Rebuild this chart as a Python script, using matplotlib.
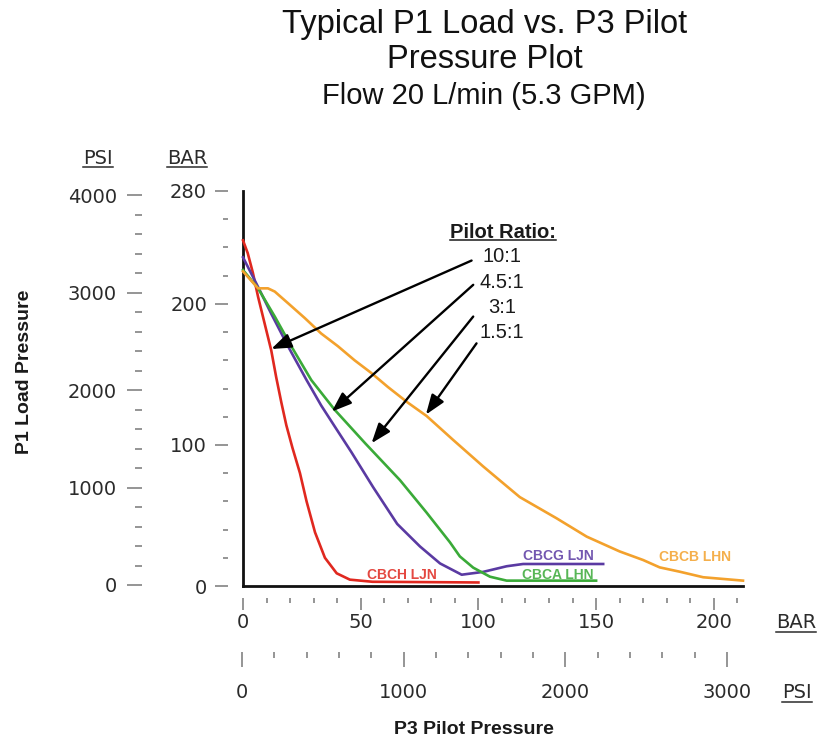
import numpy as np
import matplotlib
matplotlib.use("Agg")
import matplotlib.pyplot as plt
from matplotlib.ticker import FixedLocator
from matplotlib.lines import Line2D

# ---------------- data (BAR units) ----------------
red_x = [0, 2, 4.2, 6.4, 9.2, 12, 14.1, 16.3, 18.4, 21, 24.2, 27, 30.6, 34.8, 39.8, 45.4, 55, 100]
red_y = [245, 236, 222, 205, 186, 167, 148, 130, 114, 98, 80, 60, 38, 20, 9, 4.5, 3, 2.5]

purple_x = [0, 6.4, 12, 19.1, 27, 33.2, 39, 46, 55.3, 65.5, 75.2, 83.7, 92.9, 102, 112, 119, 153]
purple_y = [233, 212, 193, 170, 146, 128, 113, 95, 70, 44, 28, 16, 8, 10, 14, 15.6, 15.6]

green_x = [0, 6.4, 13.5, 20.5, 29, 38.9, 52, 66.7, 78, 87.9, 92.1, 97.8, 104.9, 112, 150]
green_y = [224, 211, 191, 170, 146, 125, 101, 75, 52, 31, 21, 13, 6.6, 3.8, 3.8]

orange_x = [0, 6.4, 10.6, 13.5, 19.1, 26.2, 33.2, 40.3, 47.4, 54.5, 61.6, 70, 78, 89.3, 102, 112,
            117.6, 133.2, 146, 160, 170, 177, 185.6, 195.5, 212.4]
orange_y = [223, 211, 211, 208.7, 200.5, 190, 179, 170, 160, 151, 141, 130, 120.5, 103.5, 84.8, 70.8,
            63, 48, 35, 24.5, 18.4, 13.2, 10.1, 6.2, 3.8]

series_names = ["CBCH LJN", "CBCG LJN", "CBCA LHN", "CBCB LHN"]
series_colors = ["#e0281f", "#5a3aa2", "#3aaa38", "#f3a12c"]
label_pos = [(67.7, 7.8), (133.8, 21.3), (133.5, 7.8), (191.9, 20.6)]

ratio_labels = ["10:1", "4.5:1", "3:1", "1.5:1"]
arrow_tips = [(12, 168), (37.7, 123.6), (54.6, 101.2), (77.7, 121.5)]
arrow_tails = [(97.1, 230.7), (97.8, 213.5), (97.8, 191), (99.2, 172)]

# axis scales / ticks
bar_y_major = [0, 100, 200, 280]
bar_y_minor = list(range(20, 280, 20))
psi_y_major = [0, 1000, 2000, 3000, 4000]
psi_y_minor = list(range(200, 4000, 200))
bar_x_major = [0, 50, 100, 150, 200]
bar_x_minor = list(range(10, 220, 10))
psi_x_major = [0, 1000, 2000, 3000]
psi_x_minor = list(range(200, 3000, 200))

BAR_X_MAX = 212.4
BAR_Y_MAX = 280

# ---------------- figure ----------------
W, H = 825, 740
fig = plt.figure(figsize=(W / 100, H / 100), dpi=100)
fig.patch.set_facecolor("white")

def fx(px):
    return px / W

def fy(py):
    return 1 - py / H

SANS = ["Liberation Sans", "DejaVu Sans"]
TICKF = ["DejaVu Sans"]
TICK_COL = "#8c8c8c"
LAB_COL = "#2b2b2b"

# main plotting axes
ax = fig.add_axes([fx(243), fy(586), (743 - 243) / W, (586 - 191) / H])
ax.set_xlim(0, BAR_X_MAX)
ax.set_ylim(0, BAR_Y_MAX)
for s in ["top", "right"]:
    ax.spines[s].set_visible(False)
for s in ["left", "bottom"]:
    ax.spines[s].set_linewidth(2.0)
    ax.spines[s].set_color("#111111")
ax.set_xticks([])
ax.set_yticks([])
ax.patch.set_alpha(0)

all_x = [red_x, purple_x, green_x, orange_x]
all_y = [red_y, purple_y, green_y, orange_y]
for xs, ys, c in zip(all_x, all_y, series_colors):
    ax.plot(xs, ys, color=c, lw=1.9, solid_joinstyle="round", clip_on=False, zorder=3)

for (lx, ly), name, c in zip(label_pos, series_names, series_colors):
    ax.text(lx, ly, name, color=c, fontsize=10, fontweight="bold", family=SANS,
            ha="center", va="center", alpha=0.85, zorder=4)

for tip, tail in zip(arrow_tips, arrow_tails):
    ax.annotate("", xy=tip, xytext=tail,
                arrowprops=dict(arrowstyle="-|>,head_length=0.6,head_width=0.22",
                                color="black", lw=1.7, mutation_scale=20,
                                shrinkA=0, shrinkB=0), zorder=5)

# ---------------- separate tick axes ----------------
def y_tick_axis(x_px, top_px, bot_px, lim, major, minor, mlen, nlen, pad):
    a = fig.add_axes([fx(x_px), fy(bot_px), 0.0001, (bot_px - top_px) / H])
    a.set_ylim(*lim)
    for s in a.spines.values():
        s.set_visible(False)
    a.patch.set_visible(False)
    a.xaxis.set_visible(False)
    a.yaxis.set_major_locator(FixedLocator(major))
    a.yaxis.set_minor_locator(FixedLocator(minor))
    a.set_yticklabels([str(v) for v in major], family=TICKF)
    a.tick_params(axis="y", which="major", length=mlen * 0.72, width=1.3, color=TICK_COL,
                  labelsize=14, labelcolor=LAB_COL, pad=pad * 0.72, direction="out")
    a.tick_params(axis="y", which="minor", length=nlen * 0.72, width=1.3, color=TICK_COL,
                  direction="out")
    return a

def x_tick_axis(left_px, right_px, y_px, lim, major, minor, mlen, nlen, pad):
    a = fig.add_axes([fx(left_px), fy(y_px), (right_px - left_px) / W, 0.0001])
    a.set_xlim(*lim)
    for s in a.spines.values():
        s.set_visible(False)
    a.patch.set_visible(False)
    a.yaxis.set_visible(False)
    a.xaxis.set_major_locator(FixedLocator(major))
    a.xaxis.set_minor_locator(FixedLocator(minor))
    a.set_xticklabels([str(v) for v in major], family=TICKF)
    a.tick_params(axis="x", which="major", length=mlen * 0.72, width=1.3, color=TICK_COL,
                  labelsize=14, labelcolor=LAB_COL, pad=pad * 0.72, direction="out")
    a.tick_params(axis="x", which="minor", length=nlen * 0.72, width=1.3, color=TICK_COL,
                  direction="out")
    return a

y_tick_axis(228, 191, 586, (0, BAR_Y_MAX), bar_y_major, bar_y_minor, 13, 5, 8)
y_tick_axis(142, 195, 585, (0, 4000), psi_y_major, psi_y_minor, 15, 7, 10)
x_tick_axis(243, 743, 598, (0, BAR_X_MAX), bar_x_major, bar_x_minor, 12, 5, 3)
x_tick_axis(242, 727, 652, (0, 3000), psi_x_major, psi_x_minor, 15, 6, 16)

# ---------------- texts ----------------
renderer = fig.canvas.get_renderer()

def underlined(px, py, s, **kw):
    t = fig.text(fx(px), fy(py), s, ha="center", va="center", **kw)
    bb = t.get_window_extent(renderer)
    yline = bb.y0 + 1
    fig.add_artist(Line2D([bb.x0 / W, bb.x1 / W], [yline / H, yline / H],
                          color=kw.get("color", LAB_COL), lw=1.1, transform=fig.transFigure))
    return t

underlined(98, 158, "PSI", fontsize=14, family=TICKF, color=LAB_COL)
underlined(187, 158, "BAR", fontsize=14, family=TICKF, color=LAB_COL)
underlined(796, 623, "BAR", fontsize=14, family=TICKF, color=LAB_COL)
underlined(797, 693, "PSI", fontsize=14, family=TICKF, color=LAB_COL)

fig.text(fx(25), fy(372), "P1 Load Pressure", rotation=90, fontsize=14, fontweight="bold",
         family=SANS, ha="center", va="center", color="#1a1a1a")
fig.text(fx(474), fy(730), "P3 Pilot Pressure", fontsize=14, fontweight="bold",
         family=SANS, ha="center", va="center", color="#1a1a1a")

fig.text(fx(485), fy(24), "Typical P1 Load vs. P3 Pilot", fontsize=23.5, family=SANS,
         ha="center", va="center", color="#111111")
fig.text(fx(485), fy(60), "Pressure Plot", fontsize=23.5, family=SANS,
         ha="center", va="center", color="#111111")
fig.text(fx(484), fy(96), "Flow 20 L/min (5.3 GPM)", fontsize=21, family=SANS,
         ha="center", va="center", color="#111111")

underlined(503, 232, "Pilot Ratio:", fontsize=14.5, fontweight="bold", family=SANS, color="#1a1a1a")
for i, lab in enumerate(ratio_labels):
    fig.text(fx(502), fy(257 + 25.3 * i), lab, fontsize=14.5, family=SANS,
             ha="center", va="center", color="#1a1a1a")

fig.savefig("out.png", dpi=100, facecolor="white")
